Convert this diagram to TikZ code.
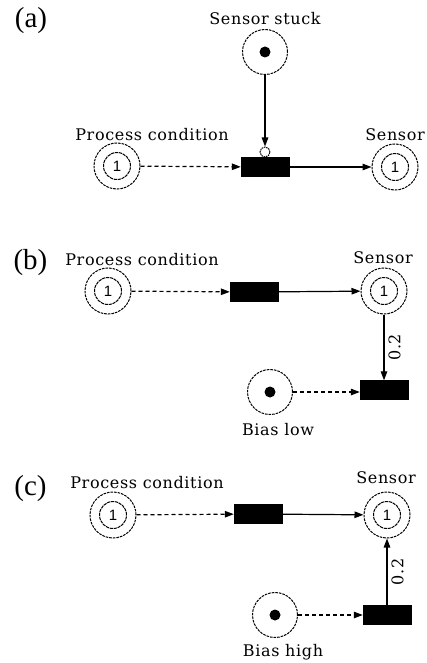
\documentclass[tikz,border=0pt]{standalone}
\usepackage{fontspec}
\setmainfont{Liberation Serif}
\newfontfamily\labfont[LetterSpace=4]{DejaVu Serif}
\newfontfamily\numfont{Liberation Sans}
\usetikzlibrary{arrows.meta}
\tikzset{
  ring/.style={circle, draw, line width=1pt, dash pattern=on 2.6pt off 1pt,
    minimum size=46pt, inner sep=0pt},
  inring/.style={circle, draw, line width=1pt, dash pattern=on 3.2pt off 0.8pt,
    minimum size=27pt, inner sep=0pt, font=\numfont\fontsize{15}{15}\selectfont},
  marked/.style={ring, minimum size=45pt,
    path picture={\fill (path picture bounding box.center) circle (5.5pt);}},
  trans/.style={rectangle, fill=black, draw=black, minimum width=48pt,
    minimum height=19pt, inner sep=0pt},
  testc/.style={circle, draw, line width=1pt, dash pattern=on 1.6pt off 0.8pt,
    minimum size=10pt, inner sep=0pt},
  lab/.style={font=\labfont\fontsize{16}{16}\selectfont, inner sep=0pt},
  tag/.style={font=\fontsize{29}{29}\selectfont, inner sep=0pt},
  arc/.style={line width=1.2pt, -{Triangle[length=9pt,width=6.5pt]}},
  darc/.style={arc, dash pattern=on 4pt off 3pt},
  wlab/.style={lab, rotate=90, anchor=north, inner sep=4pt},
}
\begin{document}
\begin{tikzpicture}[x=1pt,y=-1pt]
\useasboundingbox (0,0) rectangle (426,663);

% ---- (a) sensor stuck
\node[tag] (ta) at (31,21) {(a)};
\node[lab] (lss) at (265,19) {Sensor stuck};
\node[marked] (ss) at (265,52) {};
\node[lab] (lpa) at (152,135) {Process condition};
\node[ring] (pa) at (117,166) {};
\node[inring] (pai) at (pa) {1};
\node[trans] (tra) at (265,167) {};
\node[testc] (tsa) at (265,152) {};
\node[lab] (lsa) at (395,135) {Sensor};
\node[ring] (sa) at (395,167) {};
\node[inring] (sai) at (sa) {1};
\draw[darc] (pa) -- (tra);
\draw[arc] (tra) -- (sa);
\draw[arc] (ss) -- (tsa);

% ---- (b) bias low
\node[tag] (tb) at (30.5,262.5) {(b)};
\node[lab] (lpb) at (142,260) {Process condition};
\node[ring] (pb) at (108,291) {};
\node[inring] (pbi) at (pb) {1};
\node[trans] (trb) at (254,292) {};
\node[lab] (lsb) at (383,258) {Sensor};
\node[ring] (sb) at (384,291) {};
\node[inring] (sbi) at (sb) {1};
\node[trans] (tlb) at (384,390) {};
\node[marked] (bl) at (270,392) {};
\node[lab] (lbl) at (278,430) {Bias low};
\draw[darc] (pb) -- (trb);
\draw[arc] (trb) -- (sb);
\draw[arc] (sb) -- node[wlab] {0.2} (tlb);
\draw[darc] (bl) -- (bl -| tlb.west);

% ---- (c) bias high
\node[tag] (tc) at (30.5,489) {(c)};
\node[lab] (lpc) at (147,483) {Process condition};
\node[ring] (pc) at (113,515) {};
\node[inring] (pci) at (pc) {1};
\node[trans] (trc) at (258,514) {};
\node[lab] (lsc) at (386,478) {Sensor};
\node[ring] (sc) at (387,515) {};
\node[inring] (sci) at (sc) {1};
\node[trans] (thc) at (387,615) {};
\node[marked] (bh) at (275,615) {};
\node[lab] (lbh) at (283,652) {Bias high};
\draw[darc] (pc) -- (trc);
\draw[arc] (trc) -- (sc);
\draw[arc] (thc) -- node[wlab] {0.2} (sc);
\draw[darc] (bh) -- (thc);
\end{tikzpicture}
\end{document}
